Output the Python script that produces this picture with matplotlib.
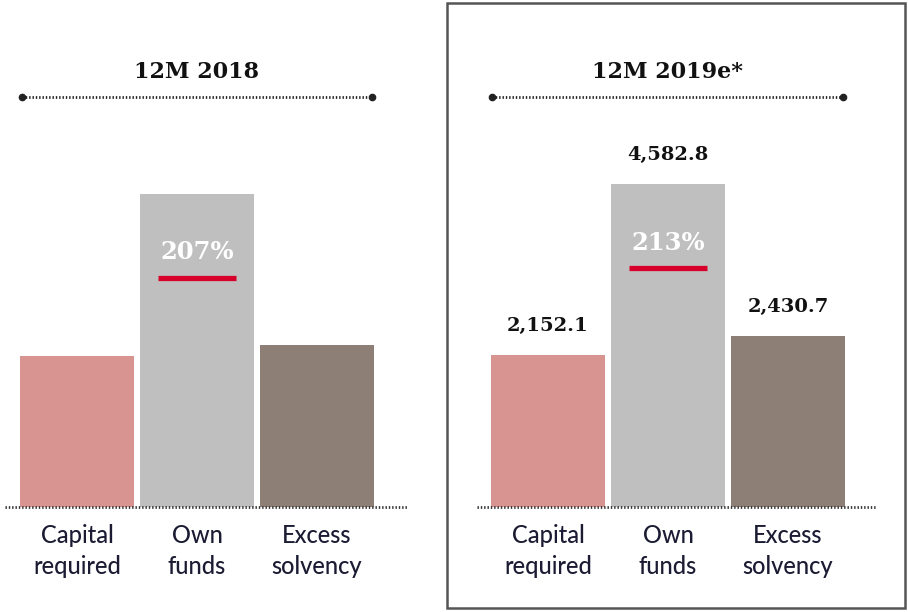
import matplotlib
matplotlib.use("Agg")
import matplotlib.pyplot as plt
from matplotlib.patches import Rectangle
from matplotlib.lines import Line2D

# data
categories = ["Capital\nrequired", "Own\nfunds", "Excess\nsolvency"]
periods = ["12M 2018", "12M 2019e*"]
values_2018 = [2150.0, 4450.0, 2300.0]      # not printed in the source
values_2019 = [2152.1, 4582.8, 2430.7]
ratios = ["207%", "213%"]
show_values = [False, True]

colors = ["#d89490", "#bfbfbf", "#8d7e76"]
red = "#d7002b"
W, H = 908, 612

fig = plt.figure(figsize=(W / 100, H / 100), dpi=100)
fig.patch.set_facecolor("white")


def fx(px):
    return px / W


def fy(py):
    return 1 - py / H


label_font = ["Lato", "DejaVu Sans"]
serif_font = ["DejaVu Serif"]

panels = [
    dict(x0=5, x1=407, c0=77, title_x=197, line=(22, 372), vals=values_2018),
    dict(x0=477, x1=877, c0=548, title_x=668, line=(492, 843), vals=values_2019),
]
spacing = 120.0
base_y, top_y = 507, 107
px_per_unit = 14.2
ymax = (base_y - top_y) * px_per_unit

for i, p in enumerate(panels):
    ax = fig.add_axes([fx(p["x0"]), fy(base_y), fx(p["x1"] - p["x0"]), (base_y - top_y) / H])
    left = -(p["c0"] - p["x0"]) / spacing
    right = left + (p["x1"] - p["x0"]) / spacing
    ax.set_xlim(left, right)
    ax.set_ylim(0, ymax)
    xs = range(len(categories))
    ax.bar(xs, p["vals"], width=0.955, color=colors, zorder=2)
    for s in ax.spines.values():
        s.set_visible(False)
    ax.set_yticks([])
    ax.set_xticks(list(xs))
    ax.set_xticklabels(categories, family=label_font, fontsize=17, fontweight="medium",
                       color="#1b1b33", linespacing=1.45)
    ax.tick_params(axis="x", length=0, pad=12)
    ax.patch.set_alpha(0)
    # dotted baseline
    ax.plot([0, 1], [0, 0], transform=ax.transAxes, color="#333333",
            lw=2.0, ls=(0, (0.5, 0.7)), clip_on=False, zorder=3)

    if show_values[i]:
        for x, v in zip(xs, p["vals"]):
            ax.annotate(f"{v:,.1f}", (x, v), xytext=(0, 21), textcoords="offset points",
                        ha="center", va="center", fontsize=14, fontweight="bold",
                        family=serif_font, color="#111111")

    top = p["vals"][1]
    ax.annotate(ratios[i], (1, top), xytext=(0, -42), textcoords="offset points",
                ha="center", va="center", fontsize=17.5, fontweight="bold",
                family=serif_font, color="white", zorder=4)
    ax.plot([1 - 0.325, 1 + 0.325], [top - 84 * px_per_unit] * 2, color=red, lw=3.8,
            solid_capstyle="butt", zorder=4)

    # title and dotted rule
    fig.text(fx(p["title_x"]), fy(72), periods[i], ha="center", va="center",
             fontsize=16, fontweight="bold", family=serif_font, color="#111111")
    l0, l1 = p["line"]
    fig.add_artist(Line2D([fx(l0), fx(l1)], [fy(97), fy(97)], color="#222222",
                          lw=2, ls=(0, (0.5, 0.7))))
    fig.add_artist(Line2D([fx(l0), fx(l1)], [fy(97), fy(97)], color="#222222",
                          lw=0, marker="o", markersize=4.5))

# frame around the estimate panel
fig.add_artist(Rectangle((fx(447), fy(608)), fx(905 - 447), (608 - 3) / H,
                         fill=False, edgecolor="#555555", lw=1.8,
                         transform=fig.transFigure))

fig.savefig("out.png", dpi=100)
